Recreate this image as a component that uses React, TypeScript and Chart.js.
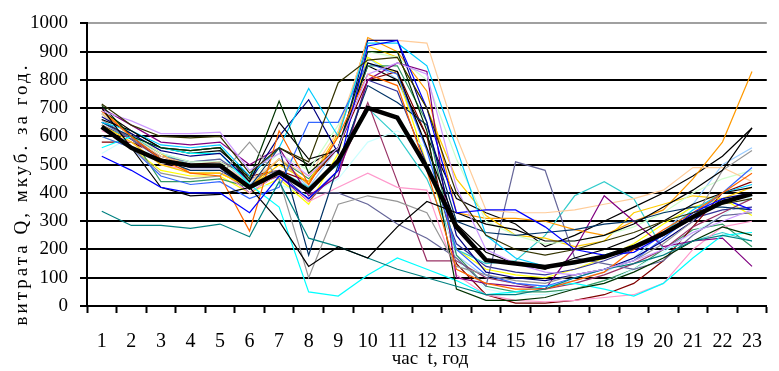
import React, { useEffect, useRef } from "react";
import { Chart, registerables } from "chart.js";

Chart.register(...registerables);

const hours = ["1","2","3","4","5","6","7","8","9","10","11","12","13","14","15","16","17","18","19","20","21","22","23"];
const yTicks = [0, 100, 200, 300, 400, 500, 600, 700, 800, 900, 1000];

const meanQ = [634,560,514,497,497,420,473,408,514,701,667,490,280,162,150,138,155,174,209,256,315,367,397];

const s01 = [715,640,600,595,600,470,560,510,790,870,880,700,400,250,200,180,200,230,260,300,330,360,380];
const s02 = [690,655,610,610,615,480,540,460,560,820,860,820,420,200,150,120,110,130,160,200,260,300,340];
const s03 = [530,480,420,400,400,330,460,380,480,920,940,700,330,340,340,280,200,180,190,250,330,380,340];
const s04 = [700,560,420,390,395,420,300,140,210,170,280,370,330,290,270,230,230,250,290,350,410,480,630];
const s05 = [335,285,285,275,290,245,440,240,210,170,130,100,70,40,40,60,100,130,150,180,230,250,230];
const s06 = [690,600,520,470,460,265,620,430,600,820,780,480,130,80,60,60,90,120,200,270,330,400,470];
const s07 = [640,560,470,450,460,580,450,100,360,390,370,330,140,110,90,80,110,130,160,220,300,480,550];
const s08 = [710,600,560,550,560,450,725,470,560,900,900,620,60,20,20,30,60,80,120,170,230,280,250];
const s09 = [660,620,560,550,560,440,650,520,550,860,830,560,290,190,150,130,170,200,240,300,360,400,420];
const s10 = [650,620,570,560,570,460,560,770,600,930,930,850,560,250,170,140,150,180,210,260,340,400,430];
const s11 = [670,610,550,530,540,440,600,730,540,940,940,650,250,120,100,90,110,130,170,230,300,380,400];
const s12 = [600,560,460,430,440,380,420,650,650,860,820,550,200,110,80,70,100,130,160,240,320,400,490];
const s13 = [650,600,520,480,480,420,560,180,500,780,720,640,300,260,250,260,270,290,300,330,350,350,340];
const s14 = [560,600,560,540,540,430,350,50,35,110,170,130,90,40,50,70,80,60,35,80,170,250,260];
const s15 = [700,640,580,570,580,500,560,390,460,800,860,830,100,80,70,60,200,390,300,210,230,240,140];
const s16 = [680,600,530,500,500,440,520,460,620,940,940,930,600,340,330,330,340,360,380,410,490,490,440];
const s17 = [660,610,540,510,510,450,540,480,640,900,880,800,520,300,250,220,230,250,280,330,400,450,480];
const s18 = [640,580,500,470,470,420,500,440,610,920,880,700,450,320,250,240,210,230,330,360,390,380,420];
const s19 = [690,610,540,470,470,420,520,430,600,950,900,760,330,310,310,300,270,250,300,340,450,580,830];
const s20 = [650,590,530,510,520,450,480,400,400,360,290,240,170,70,510,480,170,150,130,160,250,320,330];
const s21 = [620,580,500,480,480,400,470,370,420,470,420,410,110,40,20,15,20,30,40,80,200,280,300];
const s22 = [660,590,520,500,500,420,460,370,480,720,440,160,160,100,80,60,80,110,150,200,280,330,380];
const s23 = [540,600,500,470,480,420,430,390,450,580,620,560,160,60,40,40,60,80,130,190,260,320,390];
const s24 = [630,600,540,500,500,420,480,420,500,700,600,450,200,150,160,250,390,440,380,200,230,260,230];
const s25 = [580,580,530,500,510,460,480,440,560,800,830,600,150,40,10,10,20,40,80,160,280,400,440];
const s26 = [680,600,440,440,450,420,520,450,560,850,850,650,180,70,50,50,60,90,130,200,270,290,210];
const s27 = [640,590,520,490,490,400,470,380,480,800,760,500,220,140,120,110,130,160,200,250,310,340,350];
const s28 = [600,560,480,460,460,400,450,360,540,880,820,500,200,130,110,100,130,170,220,290,350,380,320];
const s29 = [690,620,560,540,550,460,560,500,560,850,800,600,380,330,290,210,250,300,350,400,460,530,630];
const s30 = [650,600,540,510,520,430,520,420,560,880,800,560,180,100,80,70,90,120,170,260,360,500,560];

const thinSeries = [s01,s02,s03,s04,s05,s06,s07,s08,s09,s10,s11,s12,s13,s14,s15,s16,s17,s18,s19,s20,s21,s22,s23,s24,s25,s26,s27,s28,s29,s30];
const thinColors = [
  "#333300","#CC99FF","#0000FF","#000000","#008080","#FF6600","#969696","#003300","#000000","#00CCFF",
  "#000080","#3366FF","#003366","#00FFFF","#800080","#FFCC99","#CCFFCC","#FFCC00","#FF9900","#666699",
  "#FF99CC","#993366","#CCFFFF","#33CCCC","#800000","#339966","#333399","#FFFF00","#000000","#99CCFF"
];

const FONT = '"Liberation Serif", "Times New Roman", serif';

const titlesPlugin = {
  id: "axisTitles",
  afterDraw(chart: any) {
    const ctx = chart.ctx;
    ctx.save();
    ctx.fillStyle = "#000";
    ctx.font = `19px ${FONT}`;
    ctx.textAlign = "center";
    ctx.textBaseline = "middle";
    ctx.fillText("час  t, год", 430, 359);
    ctx.translate(22, 194);
    ctx.rotate(-Math.PI / 2);
    try { (ctx as any).letterSpacing = "3px"; } catch (e) {}
    ctx.fillText("витрата Q, мкуб. за год.", 0, 0);
    ctx.restore();
  },
};

export default function App() {
  const ref = useRef<HTMLCanvasElement | null>(null);
  useEffect(() => {
    if (!ref.current) return;
    const datasets: any[] = [
      {
        label: "mean",
        data: meanQ,
        borderColor: "#000000",
        borderWidth: 4.5,
        pointRadius: 0,
        tension: 0,
        fill: false,
      },
      ...thinSeries.map((d, i) => ({
        label: "s" + (i + 1),
        data: d,
        borderColor: thinColors[i],
        borderWidth: 1.2,
        pointRadius: 0,
        tension: 0,
        fill: false,
      })),
    ];
    const chart = new Chart(ref.current, {
      type: "line",
      data: { labels: hours, datasets },
      options: {
        animation: false,
        responsive: false,
        devicePixelRatio: 1,
        layout: { padding: { top: 23, left: 0, right: 0, bottom: 0 } },
        plugins: { legend: { display: false }, tooltip: { enabled: false }, title: { display: false } },
        scales: {
          x: {
            type: "category",
            offset: true,
            grid: {
              offset: true,
              drawOnChartArea: false,
              drawTicks: true,
              tickLength: 7,
              tickColor: "#000",
              tickWidth: 2,
            },
            border: { display: true, color: "#000", width: 2 },
            ticks: {
              color: "#000",
              font: { family: FONT, size: 20 },
              padding: 17,
              maxRotation: 0,
              autoSkip: false,
            },
            afterFit(scale: any) { scale.height = 65; },
          },
          y: {
            min: 0,
            max: 1000,
            afterBuildTicks(scale: any) { scale.ticks = yTicks.map((v) => ({ value: v })); },
            grid: {
              color: (c: any) => (c.tick && c.tick.value === 1000 ? "#a0a0a0" : "#000"),
              lineWidth: 2,
              tickLength: 7,
              tickColor: "#000",
              tickWidth: 2,
            },
            border: { display: true, color: "#000", width: 2 },
            ticks: {
              color: "#000",
              font: { family: FONT, size: 19 },
              padding: 12,
              callback: (v: any) => String(v),
            },
            afterFit(scale: any) { scale.width = 87; },
          },
        },
      },
      plugins: [titlesPlugin],
    });
    return () => chart.destroy();
  }, []);
  return (
    <div style={{ position: "fixed", left: 0, top: 0, width: 779, height: 371, background: "#fff" }}>
      <canvas ref={ref} width={779} height={371} style={{ display: "block", width: 779, height: 371 }} />
    </div>
  );
}
